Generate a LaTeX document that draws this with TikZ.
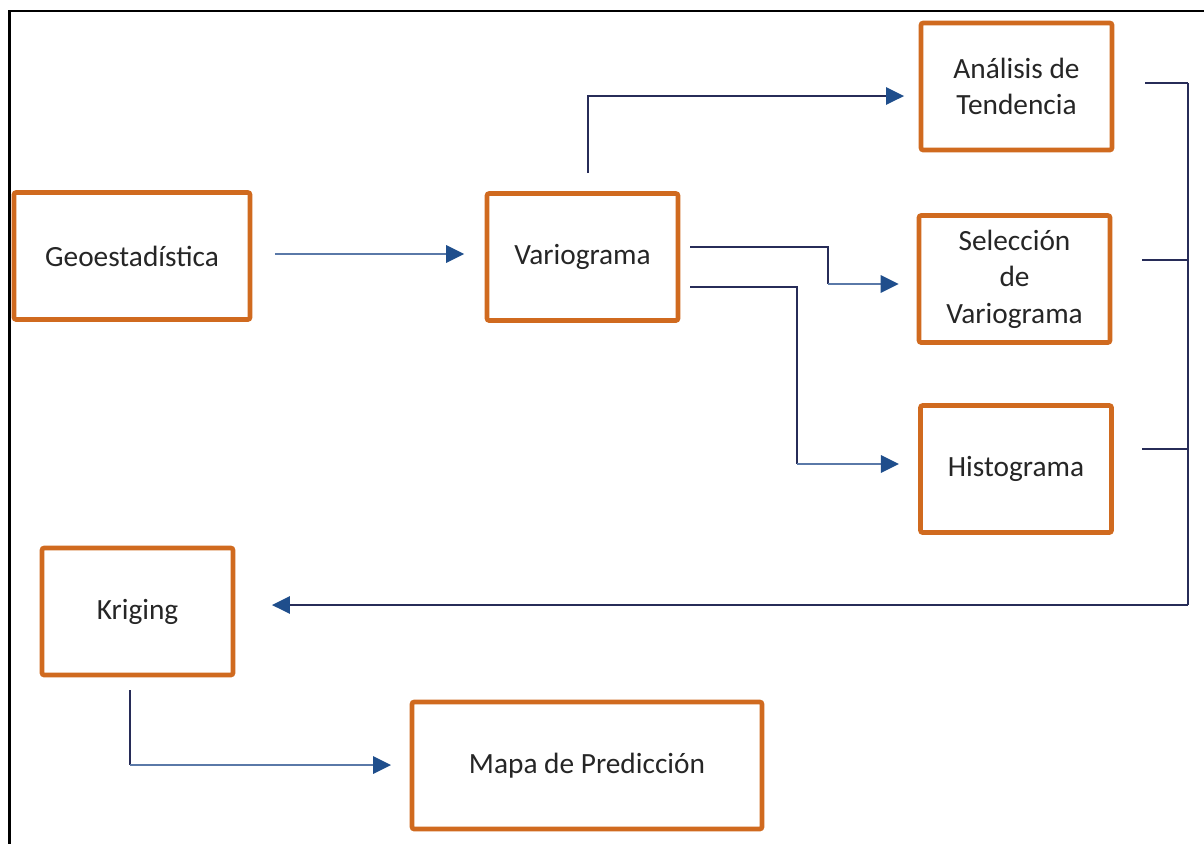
\documentclass[tikz,border=0pt]{standalone}
\usepackage{fontspec}
\setmainfont{Carlito}
\usepackage{tikz}
\usepackage{xcolor}
\usetikzlibrary{arrows.meta,positioning,calc}
\definecolor{boxline}{HTML}{D06A1F}
\definecolor{text}{HTML}{262626}
\definecolor{navy}{HTML}{272C58}
\definecolor{steel}{HTML}{5A79A8}
\definecolor{tipblue}{HTML}{1F4E8C}
\tikzset{
  stage/.style={draw=boxline, fill=white, rounded corners=1.5pt, line width=3.4pt,
                align=center, inner sep=4pt, text=text,
                font=\fontsize{22pt}{27.5pt}\selectfont,
                minimum width=143.25pt, minimum height=95.25pt},
  link/.style={draw=navy, line width=1.4pt},
  flow/.style={draw=steel, line width=1.7pt},
  tip/.style={-{Triangle[length=13.5pt,width=13pt,color=tipblue]}}
}
\begin{document}
\begin{tikzpicture}[x=0.75pt,y=-0.75pt]
        \useasboundingbox (0,0) rectangle (1204,844);
        \draw[black,line width=1.6pt] (1204,11) -- (9.5,11) -- (9.5,844);
        % stages
        \node[stage,minimum width=177pt] (geo) at (132,256) {Geoestadística};
        \node[stage] (vario) at (582.5,257) {Variograma};
        \node[stage] (ana) at (1016.5,86.5) {Análisis de\\Tendencia};
        \node[stage] (sel) at (1014.5,279) {Selección\\de\\Variograma};
        \node[stage] (hist) at (1016,469) {Histograma};
        \node[stage] (krig) at (137.5,611.5) {Kriging};
        \node[stage,minimum width=262.5pt] (mapa) at (587,765.5) {Mapa de Predicción};
        % bends
        \coordinate (up0) at (588,173);
        \coordinate (up1) at (588,96);
        \coordinate (s0) at (690,247);
        \coordinate (s1) at (828,247);
        \coordinate (s2) at (828,284);
        \coordinate (h0) at (690,287);
        \coordinate (h1) at (797,287);
        \coordinate (h2) at (797,464);
        \coordinate (t1) at (1145,83);
        \coordinate (t2) at (1142,260);
        \coordinate (t3) at (1142,449);
        \coordinate (r1) at (1188,83);
        \coordinate (r2) at (1188,260);
        \coordinate (r3) at (1188,449);
        \coordinate (r4) at (1188,605);
        \coordinate (k0) at (130,690);
        \coordinate (k1) at (130,765);
        % connectors
        \draw[flow,tip,shorten <=17pt,shorten >=15.4pt] ([yshift=1.5pt]geo.east) -- ([yshift=1.5pt]geo.east -| vario.west);
        \draw[link,tip,shorten >=11pt] (up0) -- (up1) -- (ana.west |- up1);
        \draw[link] (s0) -- (s1) -- (s2);
        \draw[flow,tip,shorten >=13.5pt] (s2) -- (sel.west |- s2);
        \draw[link] (h0) -- (h1) -- (h2);
        \draw[flow,tip,shorten >=14.5pt] (h2) -- (hist.west |- h2);
        \draw[link] (t1) -- (r1) (t2) -- (r2) (t3) -- (r3) (r1) -- (r4);
        \draw[link,tip,shorten >=27.5pt] (r4) -- (krig.east |- r4);
        \draw[link] (k0) -- (k1);
        \draw[flow,tip,shorten >=14pt] (k1) -- (mapa.west |- k1);
      \end{tikzpicture}
\end{document}
